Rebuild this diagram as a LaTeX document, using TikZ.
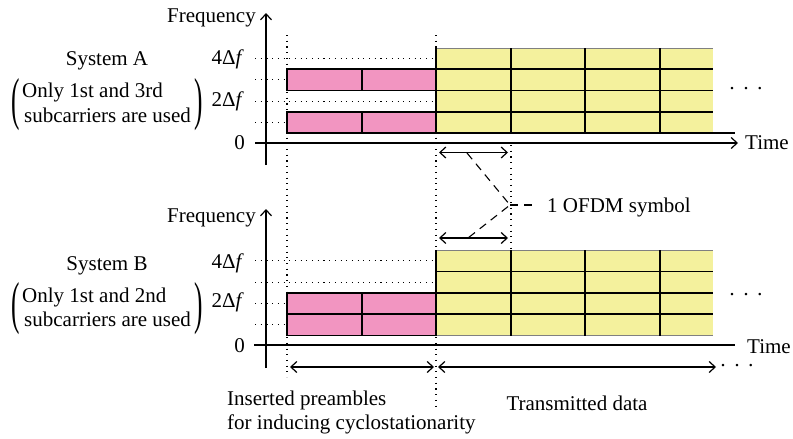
\documentclass[tikz,border=0pt]{standalone}
\usepackage{fontspec}
\usepackage{graphicx}
\setmainfont{Liberation Serif}
\usetikzlibrary{arrows.meta}
\definecolor{pinkc}{HTML}{F295C1}
\definecolor{yelc}{HTML}{F4F19D}
\newcommand{\bigparL}{\scalebox{1.2}[2.75]{(}}
\newcommand{\bigparR}{\scalebox{1.2}[2.75]{)}}
\begin{document}
\begin{tikzpicture}[x=1pt,y=-1pt, font=\fontsize{21}{24}\selectfont,
  dotline/.style={line width=1.1pt, dash pattern=on 1.1pt off 4.6pt},
  axisline/.style={line width=1.2pt},
  gridline/.style={line width=1.6pt},
  tipA/.tip={Straight Barb[length=6pt,width=11pt]},
  dblarrow/.style={line width=1.2pt, tipA-tipA},
  dshline/.style={line width=1.1pt, dash pattern=on 8pt off 6pt},
  lbl/.style={inner sep=0pt},
  yblock/.style={fill=yelc},
  pblock/.style={gridline, fill=pinkc}]
\useasboundingbox (0,0) rectangle (793,439);

% ---------- dotted guides ----------
\coordinate (v1t) at (287,35); \coordinate (v1b) at (287,377);
\coordinate (v2t) at (436,35); \coordinate (v2b) at (436,410);
\coordinate (v3t) at (511,145); \coordinate (v3b) at (511,250);
\draw[dotline] (v1t) -- (v1b);
\draw[dotline] (v2t) -- (v2b);
\draw[dotline] (v3t) -- (v3b);

% ---------- TOP PANEL ----------
\foreach \y in {58.6,79.9,101.1,122.4} \draw[dotline] (255,\y) -- (436,\y);
\fill[yblock] (436,48) rectangle (713,133);
\draw[gray, line width=0.5pt] (436,48) -- (713,48);
\foreach \y in {69.25,90.5,111.75} \draw[gridline] (436,\y) -- (713,\y);
\foreach \x in {436,511,585,660} \draw[gridline] (\x,48) -- (\x,133);
\draw[pblock] (287,69.25) rectangle (436,90.5);
\draw[gridline] (362,69.25) -- (362,90.5);
\draw[pblock] (287,111.75) rectangle (436,133);
\draw[gridline] (362,111.75) -- (362,133);
\draw[line width=1.4pt] (287,133) -- (735,133);

\coordinate (fa0) at (266,165); \coordinate (fa1) at (266,13);
\coordinate (ta0) at (255,143); \coordinate (ta1) at (738,143);
\draw[axisline,-tipA] (fa0) -- (fa1);
\draw[axisline,-tipA] (ta0) -- (ta1);

\node[lbl, anchor=base east] (freqA) at (256,22) {Frequency};
\node[lbl, anchor=base west] (timeA) at (745,149) {Time};
\node[lbl, anchor=base east] (zeroA) at (245,149) {0};
\node[lbl, anchor=base east] (f4A) at (244,64) {4Δ\textit{f}};
\node[lbl, anchor=base east] (f2A) at (244,106) {2Δ\textit{f}};
\node[lbl, anchor=base] (sysA) at (107,65) {System A};
\node[lbl, anchor=base west] (onlyA) at (22,97) {Only 1st and 3rd};
\node[lbl, anchor=base west] (subA) at (24,122) {subcarriers are used};
\node[lbl] (lpA) at (16,105) {\bigparL};
\node[lbl] (rpA) at (199,105) {\bigparR};
\node[lbl] (dotsA) at (746,91) {·\,\,·\,\,·};

% ---------- OFDM symbol annotation ----------
\coordinate (s1l) at (439,152.5); \coordinate (s1r) at (508,152.5);
\coordinate (s2l) at (439,238); \coordinate (s2r) at (508,238);
\draw[dblarrow] (s1l) -- (s1r);
\draw[dblarrow] (s2l) -- (s2r);
\coordinate (d1) at (467,153); \coordinate (d2) at (468,238);
\coordinate (dj) at (510,205); \coordinate (de) at (537,205);
\draw[dshline] (d1) -- (dj) -- (d2);
\draw[dshline] (dj) -- (de);
\node[lbl, anchor=base west] (ofdm) at (547,212) {1 OFDM symbol};

% ---------- BOTTOM PANEL ----------
\foreach \y in {260.7,282.1,303.5,324.9} \draw[dotline] (255,\y) -- (436,\y);
\fill[yblock] (436,250) rectangle (713,335.6);
\draw[gray, line width=0.5pt] (436,250) -- (713,250);
\draw[gray, line width=0.8pt] (436,335.6) -- (713,335.6);
\foreach \y in {271.4,292.8,314.2} \draw[gridline] (436,\y) -- (713,\y);
\foreach \x in {436,511,585,660} \draw[gridline] (\x,250) -- (\x,335.6);
\draw[pblock] (287,292.8) rectangle (436,335.6);
\draw[gridline] (287,314.2) -- (436,314.2);
\draw[gridline] (362,292.8) -- (362,335.6);

\coordinate (fb0) at (266,368); \coordinate (fb1) at (266,209);
\coordinate (tb0) at (254,345); \coordinate (tb1) at (735,345);
\draw[axisline,-tipA] (fb0) -- (fb1);
\draw[axisline] (tb0) -- (tb1);

\node[lbl, anchor=base east] (freqB) at (256,222) {Frequency};
\node[lbl, anchor=base west] (timeB) at (747,353) {Time};
\node[lbl, anchor=base east] (zeroB) at (245,352) {0};
\node[lbl, anchor=base east] (f4B) at (244,268) {4Δ\textit{f}};
\node[lbl, anchor=base east] (f2B) at (244,307) {2Δ\textit{f}};
\node[lbl, anchor=base] (sysB) at (107,270) {System B};
\node[lbl, anchor=base west] (onlyB) at (22,302) {Only 1st and 2nd};
\node[lbl, anchor=base west] (subB) at (24,326) {subcarriers are used};
\node[lbl] (lpB) at (16,309) {\bigparL};
\node[lbl] (rpB) at (199,309) {\bigparR};
\node[lbl] (dotsB) at (746,297) {·\,\,·\,\,·};

% ---------- bottom spans ----------
\coordinate (p1) at (290,367); \coordinate (p2) at (434,367);
\coordinate (q1) at (438,367); \coordinate (q2) at (716,367);
\draw[dblarrow] (p1) -- (p2);
\draw[dblarrow] (q1) -- (q2);
\node[lbl] (dotsC) at (737,368) {·\,\,·\,\,·};
\node[lbl, anchor=base west] (pre1) at (227,405) {Inserted preambles};
\node[lbl, anchor=base west] (pre2) at (227,429) {for inducing cyclostationarity};
\node[lbl, anchor=base] (data) at (577,410) {Transmitted data};
\end{tikzpicture}
\end{document}
